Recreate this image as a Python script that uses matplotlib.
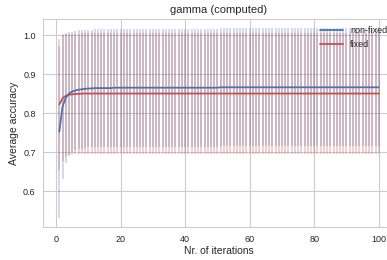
import matplotlib
matplotlib.use('Agg')
import matplotlib.pyplot as plt
import seaborn as sns
import numpy as np

sns.set_style('whitegrid')
plt.rcParams['font.family'] = ['Liberation Sans', 'DejaVu Sans']

iteracoes = np.arange(1, 101)

media_nao_fixo = [
    0.753, 0.818, 0.840, 0.851, 0.856, 0.859, 0.861, 0.862, 0.863, 0.864,
    0.864, 0.865, 0.865, 0.865, 0.865, 0.865, 0.865, 0.866, 0.866, 0.866,
    0.866, 0.866, 0.866, 0.866, 0.866, 0.866, 0.866, 0.866, 0.866, 0.866,
    0.866, 0.866, 0.866, 0.866, 0.866, 0.866, 0.866, 0.866, 0.866, 0.866,
    0.866, 0.866, 0.866, 0.866, 0.866, 0.866, 0.866, 0.866, 0.866, 0.866,
    0.867, 0.867, 0.867, 0.867, 0.867, 0.867, 0.867, 0.867, 0.867, 0.867,
    0.867, 0.867, 0.867, 0.867, 0.867, 0.867, 0.867, 0.867, 0.867, 0.867,
    0.867, 0.867, 0.867, 0.867, 0.867, 0.867, 0.867, 0.867, 0.867, 0.867,
    0.867, 0.867, 0.867, 0.867, 0.867, 0.867, 0.867, 0.867, 0.867, 0.867,
    0.867, 0.867, 0.867, 0.867, 0.867, 0.867, 0.867, 0.867, 0.867, 0.867,
]
desvio_nao_fixo = [
    0.220, 0.186, 0.166, 0.157, 0.154, 0.153, 0.152, 0.152, 0.151, 0.151,
    0.151, 0.151, 0.151, 0.151, 0.151, 0.151, 0.151, 0.151, 0.151, 0.151,
    0.151, 0.151, 0.151, 0.151, 0.151, 0.151, 0.151, 0.151, 0.151, 0.151,
    0.151, 0.151, 0.151, 0.151, 0.151, 0.151, 0.151, 0.151, 0.151, 0.151,
    0.151, 0.151, 0.151, 0.151, 0.151, 0.151, 0.151, 0.151, 0.151, 0.151,
    0.151, 0.151, 0.151, 0.151, 0.151, 0.151, 0.151, 0.151, 0.151, 0.151,
    0.151, 0.151, 0.151, 0.151, 0.151, 0.151, 0.151, 0.151, 0.151, 0.151,
    0.151, 0.151, 0.151, 0.151, 0.151, 0.151, 0.151, 0.151, 0.151, 0.151,
    0.151, 0.151, 0.151, 0.151, 0.151, 0.151, 0.151, 0.151, 0.151, 0.151,
    0.151, 0.151, 0.151, 0.151, 0.151, 0.151, 0.151, 0.151, 0.151, 0.151,
]
media_fixo = [
    0.823, 0.839, 0.845, 0.848, 0.849, 0.850, 0.850, 0.851, 0.851, 0.851,
    0.851, 0.851, 0.851, 0.851, 0.851, 0.851, 0.851, 0.851, 0.851, 0.851,
    0.851, 0.851, 0.851, 0.851, 0.851, 0.851, 0.851, 0.851, 0.851, 0.851,
    0.851, 0.851, 0.851, 0.851, 0.851, 0.851, 0.851, 0.851, 0.851, 0.851,
    0.851, 0.851, 0.851, 0.851, 0.851, 0.851, 0.851, 0.851, 0.851, 0.851,
    0.851, 0.851, 0.851, 0.851, 0.851, 0.851, 0.851, 0.851, 0.851, 0.851,
    0.851, 0.851, 0.851, 0.851, 0.851, 0.851, 0.851, 0.851, 0.851, 0.851,
    0.851, 0.851, 0.851, 0.851, 0.851, 0.851, 0.851, 0.851, 0.851, 0.851,
    0.851, 0.851, 0.851, 0.851, 0.851, 0.851, 0.851, 0.851, 0.851, 0.851,
    0.851, 0.851, 0.851, 0.851, 0.851, 0.851, 0.851, 0.851, 0.851, 0.851,
]
desvio_fixo = [
    0.167, 0.161, 0.158, 0.156, 0.155, 0.155, 0.155, 0.155, 0.155, 0.155,
    0.155, 0.155, 0.155, 0.155, 0.155, 0.155, 0.155, 0.155, 0.155, 0.155,
    0.155, 0.155, 0.155, 0.155, 0.155, 0.155, 0.155, 0.155, 0.155, 0.155,
    0.155, 0.155, 0.155, 0.155, 0.155, 0.155, 0.155, 0.155, 0.155, 0.155,
    0.155, 0.155, 0.155, 0.155, 0.155, 0.155, 0.155, 0.155, 0.155, 0.155,
    0.155, 0.155, 0.155, 0.155, 0.155, 0.155, 0.155, 0.155, 0.155, 0.155,
    0.155, 0.155, 0.155, 0.155, 0.155, 0.155, 0.155, 0.155, 0.155, 0.155,
    0.155, 0.155, 0.155, 0.155, 0.155, 0.155, 0.155, 0.155, 0.155, 0.155,
    0.155, 0.155, 0.155, 0.155, 0.155, 0.155, 0.155, 0.155, 0.155, 0.155,
    0.155, 0.155, 0.155, 0.155, 0.155, 0.155, 0.155, 0.155, 0.155, 0.155,
]

azul = '#4c72b0'
vermelho = '#c44e52'

fig = plt.figure(figsize=(3.87, 2.6), dpi=100)
ax = fig.add_axes([0.112, 0.127, 0.908, 0.80])

ax.errorbar(iteracoes, media_nao_fixo, yerr=desvio_nao_fixo, fmt='none',
            ecolor=azul, alpha=0.3, elinewidth=1.2)
ax.plot(iteracoes, media_fixo, color=vermelho, lw=1.3, label='fixed')
ax.errorbar(iteracoes, media_fixo, yerr=desvio_fixo, fmt='none',
            ecolor=vermelho, alpha=0.3, elinewidth=1.2)
# linha azul por cima de tudo
ax.plot(iteracoes, media_nao_fixo, color=azul, lw=1.3, label='non-fixed',
        zorder=5)

ax.set_xlim(-3.95, 104.95)
ax.set_title('gamma (computed)', fontsize=8, pad=4)
ax.set_xlabel('Nr. of iterations', fontsize=7.5, labelpad=2)
ax.set_ylabel('Average accuracy', fontsize=7.5, labelpad=3)
ax.tick_params(labelsize=6.5, pad=2)
h, l = ax.get_legend_handles_labels()
ax.legend(h[::-1], l[::-1], loc='upper right', fontsize=6.5, frameon=False,
          handlelength=2.5, borderaxespad=0.4)

fig.savefig('out.png', dpi=100)
